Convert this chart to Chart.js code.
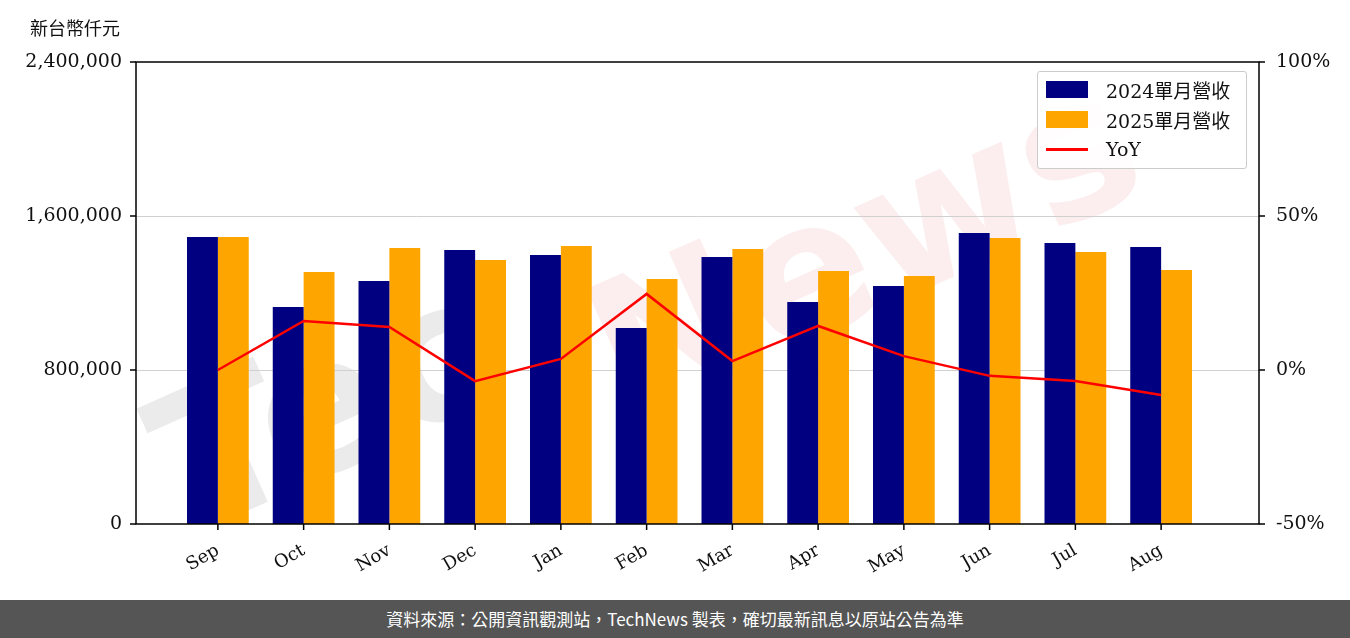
<!DOCTYPE html>
<html><head><meta charset="utf-8">
<script src="https://cdn.jsdelivr.net/npm/chart.js@4"></script>
<style>
body{margin:0;width:1350px;height:638px;background:#fff;position:relative;overflow:hidden;font-family:"Noto Sans CJK TC",sans-serif}
#wrap{position:absolute;left:0;top:0;width:1350px;height:600px}
#unit{position:absolute;left:30px;top:14px;font-size:18px;font-family:"DejaVu Serif","Noto Sans CJK TC";color:#111}
#foot{position:absolute;left:0;top:600px;width:1350px;height:38px;background:#555;color:#fff;font-size:17px;text-align:center;line-height:38px}
#leg{position:absolute;left:1037px;top:71px;width:208px;height:96px;border:1px solid #ccc;border-radius:3px;background:rgba(255,255,255,0.85);font-family:"DejaVu Serif","Noto Sans CJK TC";font-size:19px;color:#111}
.li{position:absolute;left:8px;height:22px;display:flex;align-items:center}
.sw{width:42px;height:17px;margin-right:18px}
</style></head><body>
<div id="wrap"><canvas id="c" width="1350" height="600"></canvas></div>
<div id="unit">新台幣仟元</div>
<div id="leg">
<div class="li" style="top:6px"><div class="sw" style="background:#000080"></div>2024單月營收</div>
<div class="li" style="top:36px"><div class="sw" style="background:#FFA500"></div>2025單月營收</div>
<div class="li" style="top:66px"><div class="sw" style="height:3px;background:#ff0000"></div>YoY</div>
</div>
<div id="foot">資料來源：公開資訊觀測站，TechNews 製表，確切最新訊息以原站公告為準</div>
<script>
const categories=["Sep","Oct","Nov","Dec","Jan","Feb","Mar","Apr","May","Jun","Jul","Aug"];
const rev2024=[1491000,1127000,1262000,1423000,1397000,1018000,1387000,1153000,1236000,1512000,1460000,1439000];
const rev2025=[1491000,1309000,1434000,1371000,1444000,1273000,1429000,1314000,1288000,1486000,1413000,1319000];
const yoy=[0,15.9,14,-3.6,3.6,24.7,2.9,14.3,4.5,-1.9,-3.6,-8.1];
const leftTicks=[0,800000,1600000,2400000];
const rightTicks=[-50,0,50,100];

const FL=136,FR=1259;
const watermark={id:'wm',beforeDatasetsDraw(ch){const c=ch.ctx;c.save();
c.font='bold 190px "DejaVu Sans"';c.textBaseline='middle';c.textAlign='center';
c.save();c.translate(330,420);c.rotate(-0.42);c.fillStyle='rgba(190,190,190,0.3)';c.fillText('Tec',0,0);c.restore();
c.save();c.translate(870,260);c.rotate(-0.42);c.fillStyle='rgba(235,140,140,0.15)';c.fillText('News',0,0);c.restore();
c.restore();}};
const grid={id:'gr',beforeDatasetsDraw(ch){const c=ch.ctx,y=ch.scales.y;c.save();c.strokeStyle='#d0d0d0';c.lineWidth=1;
[800000,1600000].forEach(v=>{const p=Math.round(y.getPixelForValue(v))+0.5;c.beginPath();c.moveTo(FL,p);c.lineTo(FR,p);c.stroke();});c.restore();}};
const frame={id:'fr',afterDraw(ch){const a=ch.chartArea,c=ch.ctx,y=ch.scales.y,y1=ch.scales.y1;c.save();c.strokeStyle='#000';c.lineWidth=1.5;
c.strokeRect(FL,a.top,FR-FL,a.bottom-a.top);
leftTicks.forEach(v=>{const p=y.getPixelForValue(v);c.beginPath();c.moveTo(FL,p);c.lineTo(FL-6,p);c.stroke();});
rightTicks.forEach(v=>{const p=y1.getPixelForValue(v);c.beginPath();c.moveTo(FR,p);c.lineTo(FR+6,p);c.stroke();});
ch.scales.x.ticks.forEach((t,i)=>{const p=ch.scales.x.getPixelForTick(i);c.beginPath();c.moveTo(p,a.bottom);c.lineTo(p,a.bottom+6);c.stroke();});
c.restore();}};
const serif='"DejaVu Serif"';
function zp(s){s.paddingTop=0;s.paddingBottom=0;s.paddingLeft=0;s.paddingRight=0;}
new Chart(document.getElementById('c'),{
data:{labels:categories,datasets:[
{type:'line',label:'YoY',data:yoy,yAxisID:'y1',borderColor:'#ff0000',borderWidth:2.5,pointRadius:0,tension:0,order:0},
{type:'bar',label:'2024單月營收',data:rev2024,backgroundColor:'#000080',yAxisID:'y',categoryPercentage:0.72,barPercentage:1,order:1},
{type:'bar',label:'2025單月營收',data:rev2025,backgroundColor:'#FFA500',yAxisID:'y',categoryPercentage:0.72,barPercentage:1,order:1}]},
options:{responsive:false,animation:false,layout:{padding:{top:62,right:0,left:0,bottom:0}},
plugins:{legend:{display:false},tooltip:{enabled:false}},
scales:{
x:{grid:{display:false},border:{display:false},ticks:{color:'#111',font:{family:serif,size:18},maxRotation:30,minRotation:30,padding:8},afterFit(s){s.height=76;zp(s);}},
y:{position:'left',min:0,max:2400000,afterBuildTicks(s){s.ticks=leftTicks.map(v=>({value:v}));},
ticks:{color:'#111',font:{family:serif,size:19},callback:v=>v.toLocaleString('en-US'),padding:45},
grid:{display:false},border:{display:false},afterFit(s){s.width=175;zp(s);}},
y1:{position:'right',min:-50,max:100,afterBuildTicks(s){s.ticks=rightTicks.map(v=>({value:v}));},
ticks:{color:'#111',font:{family:serif,size:19},callback:v=>v+'%',padding:64},grid:{display:false},border:{display:false},afterFit(s){s.width=146;zp(s);}}}},
plugins:[watermark,grid,frame]});
</script></body></html>
